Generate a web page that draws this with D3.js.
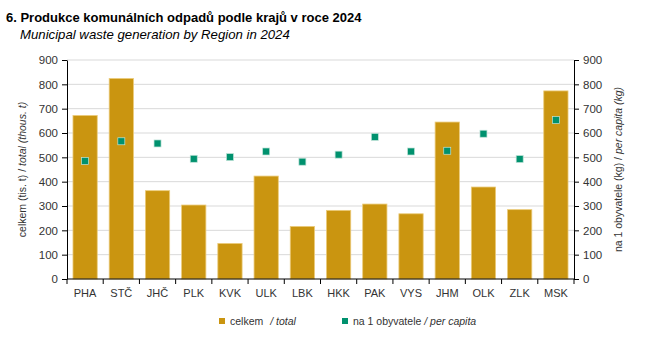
<!DOCTYPE html>
<html>
<head>
<meta charset="utf-8">
<script src="https://cdn.jsdelivr.net/npm/d3@7"></script>
<style>
  body { margin: 0; background: #fff; }
  svg { font-family: "Liberation Sans", Arial, sans-serif; }
</style>
</head>
<body>
<svg width="650" height="353"></svg>
<script>
// data
const regions = ["PHA", "STČ", "JHČ", "PLK", "KVK", "ULK", "LBK", "HKK", "PAK", "VYS", "JHM", "OLK", "ZLK", "MSK"];
const total = [672, 824, 363, 304, 146, 423, 216, 282, 308, 268, 645, 378, 285, 773];
const perCapita = [485, 566, 557, 494, 501, 524, 482, 511, 584, 524, 527, 597, 493, 653];
const yTicks = [0, 100, 200, 300, 400, 500, 600, 700, 800, 900];

const svg = d3.select("svg");
const plotLeft = 67, plotRight = 574, plotTop = 60, plotBottom = 279;

const x = d3.scaleBand().domain(regions).range([plotLeft, plotRight]).paddingInner(0.33).paddingOuter(0.165);
const y = d3.scaleLinear().domain([0, 900]).range([plotBottom, plotTop]);
const y2 = d3.scaleLinear().domain([0, 900]).range([plotBottom, plotTop]);

// gridlines
svg.append("g")
  .selectAll("line")
  .data(yTicks.slice(1))
  .enter()
  .append("line")
  .attr("x1", plotLeft).attr("x2", plotRight)
  .attr("y1", (d) => y(d)).attr("y2", (d) => y(d))
  .attr("stroke", "#d9d9d9").attr("stroke-width", 1);

// bars
svg.append("g")
  .selectAll("rect")
  .data(total)
  .enter()
  .append("rect")
  .attr("x", (d, i) => x(regions[i]))
  .attr("y", (d) => y(d))
  .attr("width", x.bandwidth())
  .attr("height", (d) => plotBottom - y(d))
  .attr("fill", "#CA9510")
  .attr("stroke", "#EBCB7A")
  .attr("stroke-width", 0.8);

// per capita markers
svg.append("g")
  .selectAll("rect")
  .data(perCapita)
  .enter()
  .append("rect")
  .attr("x", (d, i) => x(regions[i]) + x.bandwidth() / 2 - 3.5)
  .attr("y", (d) => y2(d) - 3.5)
  .attr("width", 7).attr("height", 7)
  .attr("fill", "#00916E")
  .attr("stroke", "#BFE3D8")
  .attr("stroke-width", 0.7);

// axes
const tickStyle = (g) => {
  g.select(".domain").attr("stroke", "#000");
  g.selectAll(".tick line").attr("stroke", "#000");
  g.selectAll(".tick text").attr("fill", "#333").style("font-size", "11.5px");
};

svg.append("g")
  .attr("transform", `translate(${plotLeft},0)`)
  .call(d3.axisLeft(y).tickValues(yTicks).tickSize(5).tickSizeOuter(0).tickPadding(4))
  .call(tickStyle);

svg.append("g")
  .attr("transform", `translate(${plotRight},0)`)
  .call(d3.axisRight(y2).tickValues(yTicks).tickSize(5).tickSizeOuter(0).tickPadding(4))
  .call(tickStyle);

// x axis: ticks sit between categories
const xAxis = svg.append("g").attr("transform", `translate(0,${plotBottom})`);
xAxis.append("line").attr("x1", plotLeft).attr("x2", plotRight).attr("stroke", "#000");
const bounds = d3.range(regions.length + 1).map((i) => plotLeft + i * (plotRight - plotLeft) / regions.length);
xAxis.selectAll("line.tk")
  .data(bounds)
  .enter()
  .append("line")
  .attr("class", "tk")
  .attr("x1", (d) => d).attr("x2", (d) => d)
  .attr("y1", 0).attr("y2", 5)
  .attr("stroke", "#000");
xAxis.selectAll("text")
  .data(regions)
  .enter()
  .append("text")
  .attr("x", (d) => x(d) + x.bandwidth() / 2)
  .attr("y", 18)
  .attr("text-anchor", "middle")
  .attr("fill", "#333")
  .style("font-size", "11px")
  .text((d) => d);

// titles
svg.append("text")
  .attr("x", 6).attr("y", 22)
  .style("font-size", "13px").style("font-weight", "bold")
  .text("6. Produkce komunálních odpadů podle krajů v roce 2024");
svg.append("text")
  .attr("x", 20).attr("y", 39)
  .style("font-size", "13.2px").style("font-style", "italic")
  .text("Municipal waste generation by Region in 2024");

// axis titles
const yl = svg.append("text")
  .attr("transform", `translate(26,${(plotTop + plotBottom) / 2}) rotate(-90)`)
  .attr("text-anchor", "middle")
  .attr("fill", "#333")
  .style("font-size", "10.5px");
yl.append("tspan").text("celkem (tis. t) / ");
yl.append("tspan").style("font-style", "italic").text("total (thous. t)");

const yr = svg.append("text")
  .attr("transform", `translate(622,${(plotTop + plotBottom) / 2}) rotate(-90)`)
  .attr("text-anchor", "middle")
  .attr("fill", "#333")
  .style("font-size", "10.5px");
yr.append("tspan").text("na 1 obyvatele  (kg) / ");
yr.append("tspan").style("font-style", "italic").text("per capita (kg)");

// legend
const legend = svg.append("g").style("font-size", "10.5px").attr("fill", "#333");
legend.append("rect").attr("x", 219).attr("y", 318).attr("width", 6).attr("height", 6).attr("fill", "#CA9510");
const l1 = legend.append("text").attr("x", 230).attr("y", 325);
l1.append("tspan").text("celkem ");
l1.append("tspan").attr("dx", 4).style("font-style", "italic").text("/ total");
legend.append("rect").attr("x", 342).attr("y", 318).attr("width", 6).attr("height", 6).attr("fill", "#00916E");
const l2 = legend.append("text").attr("x", 353).attr("y", 325);
l2.append("tspan").text("na 1 obyvatele ");
l2.append("tspan").style("font-style", "italic").text("/ per capita");
</script>
</body>
</html>
